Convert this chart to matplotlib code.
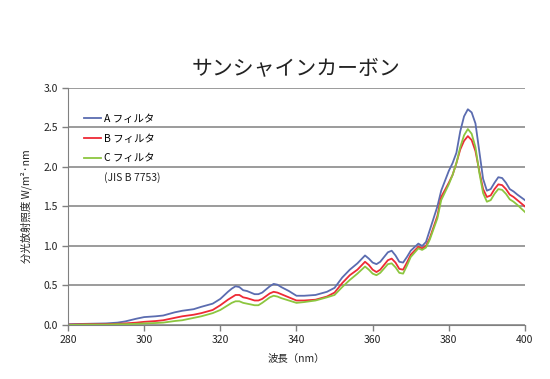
import matplotlib
matplotlib.use("Agg")
import matplotlib.pyplot as plt

plt.rcParams['font.family'] = ['Noto Sans CJK JP', 'DejaVu Sans']

wavelength = [280,285,290,293,295,298,300,303,305,308,310,313,315,318,320,322,323,324,325,326,327,329,330,331,333,334,335,336,338,340,342,345,348,350,352,354,356,358,359,360,361,362,364,365,366,367,368,369,370,372,373,374,375,377,378,380,381,382,383,384,385,386,387,388,389,390,391,392,393,394,395,396,397,398,400]

filter_a = [0.01,0.015,0.02,0.03,0.045,0.08,0.10,0.11,0.12,0.16,0.18,0.20,0.23,0.27,0.33,0.42,0.46,0.49,0.48,0.44,0.43,0.39,0.39,0.41,0.49,0.52,0.51,0.48,0.43,0.37,0.37,0.38,0.42,0.47,0.60,0.70,0.78,0.88,0.84,0.79,0.77,0.80,0.92,0.94,0.88,0.80,0.79,0.86,0.94,1.03,1.00,1.05,1.20,1.50,1.70,1.95,2.05,2.18,2.45,2.64,2.73,2.69,2.55,2.20,1.85,1.70,1.72,1.80,1.87,1.86,1.80,1.72,1.69,1.65,1.58]

filter_b = [0.005,0.01,0.01,0.015,0.02,0.03,0.04,0.05,0.06,0.09,0.11,0.13,0.15,0.19,0.25,0.32,0.35,0.38,0.38,0.35,0.34,0.31,0.31,0.33,0.40,0.42,0.41,0.39,0.35,0.31,0.31,0.32,0.36,0.41,0.53,0.63,0.70,0.80,0.76,0.70,0.67,0.70,0.82,0.84,0.79,0.71,0.70,0.79,0.89,0.99,0.97,1.00,1.10,1.38,1.62,1.80,1.90,2.05,2.22,2.33,2.39,2.34,2.20,1.95,1.72,1.62,1.64,1.72,1.78,1.77,1.72,1.65,1.62,1.58,1.50]

filter_c = [0.0,0.005,0.005,0.01,0.01,0.015,0.02,0.025,0.03,0.05,0.06,0.09,0.11,0.15,0.19,0.25,0.28,0.30,0.30,0.28,0.27,0.25,0.25,0.28,0.35,0.37,0.36,0.34,0.31,0.28,0.29,0.31,0.35,0.38,0.48,0.57,0.65,0.74,0.70,0.65,0.63,0.66,0.77,0.78,0.73,0.66,0.65,0.75,0.86,0.97,0.95,0.98,1.08,1.35,1.58,1.78,1.90,2.05,2.25,2.40,2.48,2.42,2.25,1.93,1.67,1.56,1.58,1.66,1.72,1.71,1.66,1.59,1.56,1.52,1.43]

labels = ['A フィルタ', 'B フィルタ', 'C フィルタ']
note = '(JIS B 7753)'
title = 'サンシャインカーボン'
xlabel = '波長（nm）'
ylabel = '分光放射照度 W/m²·nm'
xticks = [280, 300, 320, 340, 360, 380, 400]
yticks = [0.0, 0.5, 1.0, 1.5, 2.0, 2.5, 3.0]

colors = ['#5b6cb0', '#ee2a36', '#8cc63f']

fig = plt.figure(figsize=(5.5, 3.79), dpi=100)
ax = fig.add_axes([0.1236, 0.1425, 0.8309, 0.6255])

series = [filter_a, filter_b, filter_c]
for vals, lab, col in zip(series, labels, colors):
    ax.plot(wavelength, vals, color=col, lw=1.3, label=lab)

ax.set_xlim(280, 400)
ax.set_ylim(0, 3.0)
ax.set_xticks(xticks)
ax.set_yticks(yticks)
ax.set_yticklabels([f'{v:.1f}' for v in yticks])
ax.yaxis.grid(True, color='#808080', lw=1.1)
ax.set_axisbelow(True)
for s in ['top', 'right']:
    ax.spines[s].set_visible(False)
for s in ['left', 'bottom']:
    ax.spines[s].set_color('#808080')
ax.tick_params(axis='both', colors='#808080', labelcolor='#222222', labelsize=7.5, length=4, width=1)

ax.set_title(title, fontsize=15, pad=9, color='#222222')
ax.set_xlabel(xlabel, fontsize=7.5, color='#222222', labelpad=6)
ax.set_ylabel(ylabel, fontsize=7.5, color='#222222', labelpad=8)

leg = ax.legend(loc='upper left', bbox_to_anchor=(0.027, 0.909), frameon=False,
                fontsize=7.5, handlelength=1.6, handletextpad=0.25, labelspacing=0.95,
                borderaxespad=0)
ax.text(0.078, 0.624, note, transform=ax.transAxes, fontsize=7.5, color='#222222', va='center')

fig.savefig('out.png', dpi=100, facecolor='white')
